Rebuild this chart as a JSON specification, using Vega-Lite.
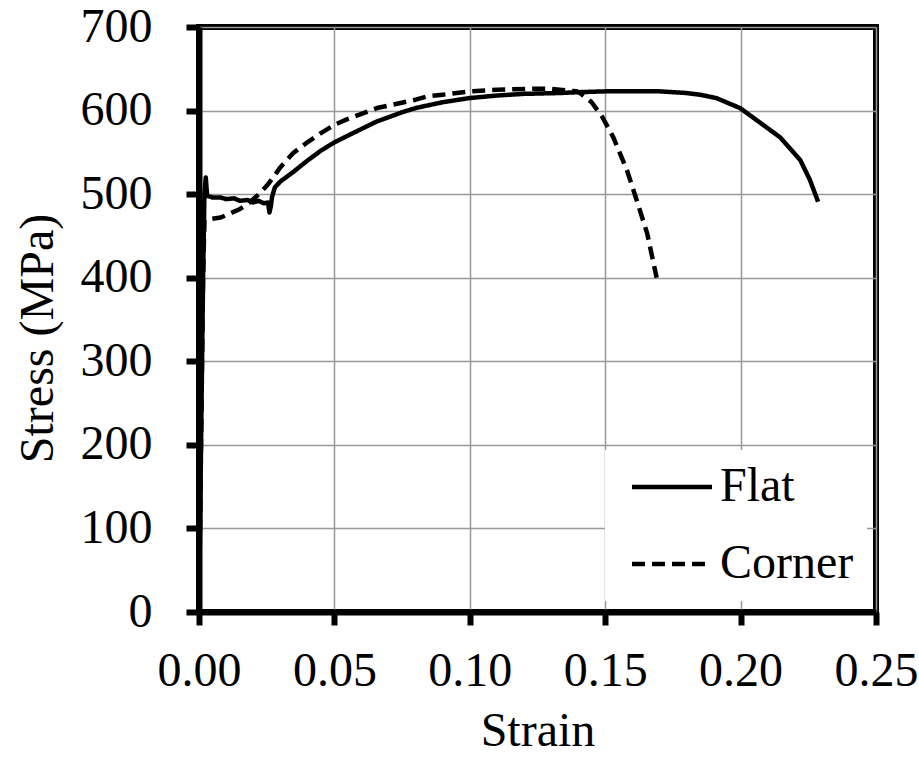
{
  "$schema": "https://vega.github.io/schema/vega-lite/v6.json",
  "autosize": {"type": "none"},
  "width": 677,
  "height": 585,
  "padding": {"left": 199, "top": 27, "right": 43, "bottom": 146},
  "background": "white",
  "config": {
    "view": {"stroke": "black", "strokeWidth": 6},
    "axis": {
      "domainColor": "black", "domainWidth": 6,
      "tickColor": "black", "tickWidth": 6, "tickSize": 13,
      "gridColor": "#999999", "gridWidth": 1.5,
      "labelFont": "Liberation Serif", "labelFontSize": 48, "labelColor": "black",
      "titleFont": "Liberation Serif", "titleFontSize": 48, "titleColor": "black", "titleFontWeight": "normal"
    }
  },
  "data": {"values": [
    {"series": "Flat", "strain": 0, "stress": 0},
    {"series": "Flat", "strain": 0.0015, "stress": 400},
    {"series": "Flat", "strain": 0.002, "stress": 500},
    {"series": "Flat", "strain": 0.0025, "stress": 520},
    {"series": "Flat", "strain": 0.003, "stress": 498},
    {"series": "Flat", "strain": 0.005, "stress": 496},
    {"series": "Flat", "strain": 0.008, "stress": 496},
    {"series": "Flat", "strain": 0.010, "stress": 494},
    {"series": "Flat", "strain": 0.013, "stress": 495},
    {"series": "Flat", "strain": 0.015, "stress": 492},
    {"series": "Flat", "strain": 0.018, "stress": 493},
    {"series": "Flat", "strain": 0.020, "stress": 490},
    {"series": "Flat", "strain": 0.022, "stress": 492},
    {"series": "Flat", "strain": 0.024, "stress": 489},
    {"series": "Flat", "strain": 0.0255, "stress": 490},
    {"series": "Flat", "strain": 0.026, "stress": 478},
    {"series": "Flat", "strain": 0.0265, "stress": 485},
    {"series": "Flat", "strain": 0.027, "stress": 497},
    {"series": "Flat", "strain": 0.028, "stress": 508},
    {"series": "Flat", "strain": 0.030, "stress": 515},
    {"series": "Flat", "strain": 0.035, "stress": 527},
    {"series": "Flat", "strain": 0.040, "stress": 540},
    {"series": "Flat", "strain": 0.045, "stress": 552},
    {"series": "Flat", "strain": 0.050, "stress": 562},
    {"series": "Flat", "strain": 0.055, "stress": 570},
    {"series": "Flat", "strain": 0.060, "stress": 578},
    {"series": "Flat", "strain": 0.0657, "stress": 587},
    {"series": "Flat", "strain": 0.070, "stress": 592},
    {"series": "Flat", "strain": 0.075, "stress": 598},
    {"series": "Flat", "strain": 0.080, "stress": 603},
    {"series": "Flat", "strain": 0.0842, "stress": 606},
    {"series": "Flat", "strain": 0.090, "stress": 610},
    {"series": "Flat", "strain": 0.100, "stress": 615},
    {"series": "Flat", "strain": 0.110, "stress": 618},
    {"series": "Flat", "strain": 0.120, "stress": 620},
    {"series": "Flat", "strain": 0.1333, "stress": 621},
    {"series": "Flat", "strain": 0.140, "stress": 622},
    {"series": "Flat", "strain": 0.150, "stress": 623},
    {"series": "Flat", "strain": 0.160, "stress": 623},
    {"series": "Flat", "strain": 0.170, "stress": 623},
    {"series": "Flat", "strain": 0.180, "stress": 621},
    {"series": "Flat", "strain": 0.185, "stress": 619},
    {"series": "Flat", "strain": 0.191, "stress": 615},
    {"series": "Flat", "strain": 0.1998, "stress": 603},
    {"series": "Flat", "strain": 0.207, "stress": 586},
    {"series": "Flat", "strain": 0.2146, "stress": 568},
    {"series": "Flat", "strain": 0.222, "stress": 541},
    {"series": "Flat", "strain": 0.2256, "stress": 517},
    {"series": "Flat", "strain": 0.2286, "stress": 491},
    {"series": "Corner", "strain": 0, "stress": 0},
    {"series": "Corner", "strain": 0.0015, "stress": 400},
    {"series": "Corner", "strain": 0.002, "stress": 469},
    {"series": "Corner", "strain": 0.004, "stress": 470},
    {"series": "Corner", "strain": 0.008, "stress": 472},
    {"series": "Corner", "strain": 0.0115, "stress": 477},
    {"series": "Corner", "strain": 0.015, "stress": 482},
    {"series": "Corner", "strain": 0.018, "stress": 488},
    {"series": "Corner", "strain": 0.0225, "stress": 501},
    {"series": "Corner", "strain": 0.025, "stress": 510},
    {"series": "Corner", "strain": 0.0274, "stress": 520},
    {"series": "Corner", "strain": 0.030, "stress": 532},
    {"series": "Corner", "strain": 0.0347, "stress": 549},
    {"series": "Corner", "strain": 0.040, "stress": 562},
    {"series": "Corner", "strain": 0.045, "stress": 573},
    {"series": "Corner", "strain": 0.050, "stress": 583},
    {"series": "Corner", "strain": 0.055, "stress": 590},
    {"series": "Corner", "strain": 0.060, "stress": 596},
    {"series": "Corner", "strain": 0.0657, "stress": 603},
    {"series": "Corner", "strain": 0.070, "stress": 606},
    {"series": "Corner", "strain": 0.080, "stress": 613},
    {"series": "Corner", "strain": 0.0842, "stress": 617},
    {"series": "Corner", "strain": 0.090, "stress": 619},
    {"series": "Corner", "strain": 0.100, "stress": 623},
    {"series": "Corner", "strain": 0.110, "stress": 625},
    {"series": "Corner", "strain": 0.121, "stress": 626},
    {"series": "Corner", "strain": 0.130, "stress": 626},
    {"series": "Corner", "strain": 0.1396, "stress": 623},
    {"series": "Corner", "strain": 0.1407, "stress": 621},
    {"series": "Corner", "strain": 0.145, "stress": 610},
    {"series": "Corner", "strain": 0.149, "stress": 592},
    {"series": "Corner", "strain": 0.153, "stress": 568},
    {"series": "Corner", "strain": 0.158, "stress": 529},
    {"series": "Corner", "strain": 0.162, "stress": 489},
    {"series": "Corner", "strain": 0.1655, "stress": 453},
    {"series": "Corner", "strain": 0.169, "stress": 400}
  ]},
  "mark": {"type": "line", "color": "black", "strokeWidth": 4.5, "strokeCap": "butt", "strokeJoin": "round"},
  "encoding": {
    "x": {
      "field": "strain", "type": "quantitative",
      "scale": {"domain": [0, 0.25], "nice": false, "zero": false},
      "axis": {
        "values": [0, 0.05, 0.1, 0.15, 0.2, 0.25], "format": ".2f",
        "title": "Strain", "labelBaseline": "alphabetic", "labelPadding": 60,
        "titleBaseline": "alphabetic", "titleY": 133, "labelFlush": false, "labelOverlap": false
      }
    },
    "y": {
      "field": "stress", "type": "quantitative",
      "scale": {"domain": [0, 700], "nice": false},
      "axis": {
        "values": [0, 100, 200, 300, 400, 500, 600, 700], "format": "d",
        "title": "Stress (MPa)", "labelPadding": 34,
        "titleBaseline": "alphabetic", "titleX": -147, "titleY": 311, "titleAngle": 270,
        "labelFlush": false, "labelOverlap": false
      }
    },
    "strokeDash": {
      "field": "series", "type": "nominal",
      "scale": {"domain": ["Flat", "Corner"], "range": [[1, 0], [13, 7]]},
      "legend": {
        "orient": "none", "legendX": 406, "legendY": 423, "title": null,
        "symbolType": "M-0.5,0H3.5", "symbolSize": 1600, "symbolStrokeWidth": 4.5, "symbolStrokeColor": "black",
        "symbolFillColor": "transparent",
        "labelFont": "Liberation Serif", "labelFontSize": 48, "labelColor": "black",
        "labelOffset": 54, "fillColor": "white", "padding": 13, "rowPadding": 29
      }
    }
  }
}
